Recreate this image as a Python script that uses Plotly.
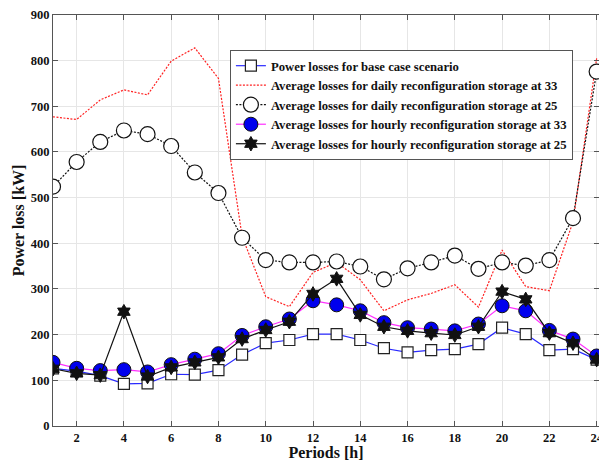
import plotly.graph_objects as go

periods = list(range(1, 25))
base_case = [126, 120, 110, 92, 93, 113, 112, 122, 156, 181, 188, 201, 201, 188, 170, 161, 166, 168, 179, 215, 201, 166, 168, 145]
daily_33 = [677, 671, 714, 736, 725, 799, 828, 761, 415, 283, 261, 336, 358, 320, 252, 276, 290, 309, 260, 385, 305, 296, 447, 805]
daily_25 = [524, 578, 622, 647, 639, 613, 555, 510, 412, 363, 358, 358, 360, 349, 321, 345, 358, 373, 344, 358, 351, 363, 455, 776]
hourly_33 = [139, 126, 121, 123, 118, 134, 146, 158, 198, 217, 234, 274, 265, 252, 226, 215, 212, 208, 223, 263, 252, 209, 190, 153]
hourly_25 = [125, 115, 111, 250, 108, 128, 139, 150, 190, 210, 228, 289, 322, 243, 217, 208, 203, 199, 217, 294, 277, 203, 181, 145]
names = [
    "Power losses for base case scenario",
    "Average losses for daily reconfiguration storage at 33",
    "Average losses for daily reconfiguration storage at 25",
    "Average losses for hourly reconfiguration storage at 33",
    "Average losses for hourly reconfiguration storage at 25",
]
x_ticks = list(range(2, 25, 2))
y_ticks = list(range(0, 901, 100))

fig = go.Figure()
fig.add_trace(go.Scatter(x=periods, y=base_case, name=names[0], mode="lines+markers",
                         line=dict(color="#2a2aff", width=1.2),
                         marker=dict(symbol="square", size=11, color="white", line=dict(color="#222", width=1.2))))
fig.add_trace(go.Scatter(x=periods, y=daily_33, name=names[1], mode="lines",
                         line=dict(color="#ff2020", width=1.2, dash="2px,1.5px")))
fig.add_trace(go.Scatter(x=periods, y=daily_25, name=names[2], mode="lines+markers",
                         line=dict(color="#111", width=1.2, dash="2px,1.5px"),
                         marker=dict(symbol="circle", size=15, color="white", line=dict(color="#111", width=1.2))))
fig.add_trace(go.Scatter(x=periods, y=hourly_33, name=names[3], mode="lines+markers",
                         line=dict(color="#ff30ff", width=1.2),
                         marker=dict(symbol="circle", size=14, color="#0000ee", line=dict(color="#111", width=1))))
fig.add_trace(go.Scatter(x=periods, y=hourly_25, name=names[4], mode="lines+markers",
                         line=dict(color="#111", width=1.2),
                         marker=dict(symbol="hexagram", size=11, color="#111", line=dict(color="#111", width=1))))

font_family = "Liberation Serif, Times New Roman, serif"
axis_common = dict(showgrid=True, gridcolor="#e6e6e6", gridwidth=1, showline=True, linecolor="#555",
                   linewidth=1, mirror="allticks", ticks="inside", ticklen=5, tickcolor="#555",
                   tickfont=dict(family=font_family, size=12.5, color="#111", weight="bold"), zeroline=False,
                   ticklabeloverflow="allow", automargin=False)

fig.update_layout(
    width=599, height=461,
    margin=dict(l=53, r=0, t=15, b=35),
    paper_bgcolor="white", plot_bgcolor="white",
    font=dict(family=font_family, color="#111"),
    xaxis=dict(range=[1, 24.1], tickvals=x_ticks,
               title=dict(text="Periods [h]", font=dict(size=16, weight="bold"), standoff=6),
               **axis_common),
    yaxis=dict(range=[-0.4, 900], tickvals=y_ticks,
               title=dict(text="Power loss [kW]", font=dict(size=16, weight="bold"), standoff=2),
               **axis_common),
    legend=dict(x=0.324, y=0.915, xanchor="left", yanchor="top", bgcolor="white",
                bordercolor="#555", borderwidth=1,
                font=dict(family=font_family, size=12.7, color="#111", weight="bold"),
                tracegroupgap=0, itemwidth=30),
    showlegend=True,
)

fig.write_html("out.html")
